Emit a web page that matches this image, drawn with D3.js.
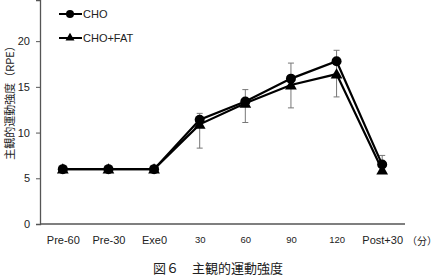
<!DOCTYPE html>
<html>
<head>
<meta charset="utf-8">
<script src="https://cdn.jsdelivr.net/npm/d3@7"></script>
<style>
  body { margin: 0; background: #fff; }
  text { font-family: "Liberation Sans", Arial, sans-serif; fill: #222; }
  .jp { font-family: "Noto Sans CJK JP", sans-serif; }
</style>
</head>
<body>
<svg id="chart"></svg>
<script>
const categories = ["Pre-60", "Pre-30", "Exe0", "30", "60", "90", "120", "Post+30"];
const choValues = [6, 6, 6, 11.4, 13.4, 15.9, 17.8, 6.5];
const fatValues = [6, 6, 6, 10.9, 13.2, 15.2, 16.4, 5.9];
// error bar ends (both series overlap)
const errHigh = [null, null, null, 12.1, 14.7, 17.6, 19.0, 7.5];
const errLow = [null, null, null, 8.3, 11.1, 12.7, 13.9, 6.5];
const yTicks = [0, 5, 10, 15, 20];

const width = 439, height = 277;
const svg = d3.select("#chart").attr("width", width).attr("height", height);

const x = d3.scalePoint().domain(categories).range([40, 405]).padding(0.5);
const y = d3.scaleLinear().domain([0, 24.5]).range([224, 0]);

// axes
const yAxis = svg.append("g").attr("transform", "translate(40,0)")
  .call(d3.axisLeft(y).tickValues(yTicks).tickSize(4).tickPadding(6));
yAxis.select(".domain").attr("stroke", "#555").attr("stroke-width", 1.3);
yAxis.selectAll(".tick line").attr("stroke", "#555");
yAxis.selectAll("text").style("font-size", "11px").attr("fill", "#333");

const xAxis = svg.append("g").attr("transform", "translate(0,224)")
  .call(d3.axisBottom(x).tickSize(0).tickPadding(12));
xAxis.select(".domain").attr("d", "M40,0H405").attr("stroke", "#555").attr("stroke-width", 1.3);
xAxis.selectAll("text")
  .style("font-size", d => /^\d+$/.test(d) ? "9.5px" : "11px")
  .attr("fill", "#333");

// error bars
const errData = categories.map((c, i) => ({ c, hi: errHigh[i], lo: errLow[i] })).filter(d => d.hi != null);
const eb = svg.append("g").attr("stroke", "#777").attr("stroke-width", 1);
eb.selectAll(".ev").data(errData).join("line")
  .attr("x1", d => x(d.c)).attr("x2", d => x(d.c))
  .attr("y1", d => y(d.hi)).attr("y2", d => y(d.lo));
eb.selectAll(".eh").data(errData).join("line")
  .attr("x1", d => x(d.c) - 3).attr("x2", d => x(d.c) + 3)
  .attr("y1", d => y(d.hi)).attr("y2", d => y(d.hi));
eb.selectAll(".el").data(errData.filter(d => d.c !== "Post+30")).join("line")
  .attr("x1", d => x(d.c) - 3).attr("x2", d => x(d.c) + 3)
  .attr("y1", d => y(d.lo)).attr("y2", d => y(d.lo));

// lines
const line = d3.line().x((d, i) => x(categories[i])).y(d => y(d));
[fatValues, choValues].forEach(vals => {
  svg.append("path").datum(vals).attr("d", line)
    .attr("fill", "none").attr("stroke", "#000").attr("stroke-width", 2.2);
});

// markers
const tri = d3.symbol().type(d3.symbolTriangle).size(60);
svg.append("g").selectAll("path").data(fatValues).join("path")
  .attr("d", tri)
  .attr("transform", (d, i) => `translate(${x(categories[i])},${y(d) + 1})`)
  .attr("fill", "#000");
svg.append("g").selectAll("circle").data(choValues).join("circle")
  .attr("cx", (d, i) => x(categories[i])).attr("cy", d => y(d)).attr("r", 5)
  .attr("fill", "#000");

// legend
const legend = [
  { label: "CHO", shape: "circle", yPos: 14 },
  { label: "CHO+FAT", shape: "triangle", yPos: 38 }
];
const lg = svg.append("g");
legend.forEach(l => {
  lg.append("line").attr("x1", 59).attr("x2", 82).attr("y1", l.yPos).attr("y2", l.yPos)
    .attr("stroke", "#000").attr("stroke-width", 2);
  if (l.shape === "circle") {
    lg.append("circle").attr("cx", 70).attr("cy", l.yPos).attr("r", 4).attr("fill", "#000");
  } else {
    lg.append("path").attr("d", d3.symbol().type(d3.symbolTriangle).size(35))
      .attr("transform", `translate(70,${l.yPos})`).attr("fill", "#000");
  }
  lg.append("text").attr("x", 83).attr("y", l.yPos + 4).style("font-size", "11px").text(l.label);
});

// y title
svg.append("text").attr("class", "jp")
  .attr("transform", "translate(14,100) rotate(-90)")
  .attr("text-anchor", "middle").style("font-size", "11px").attr("fill", "#333")
  .text("主観的運動強度（RPE）");

// unit
svg.append("text").attr("class", "jp").attr("x", 437).attr("y", 245)
  .attr("text-anchor", "end").style("font-size", "10px").attr("fill", "#333")
  .text("（分）");

// caption
svg.append("text").attr("class", "jp").attr("x", 218).attr("y", 273)
  .attr("text-anchor", "middle").style("font-size", "13px").attr("fill", "#333")
  .text("図６　主観的運動強度");
</script>
</body>
</html>
